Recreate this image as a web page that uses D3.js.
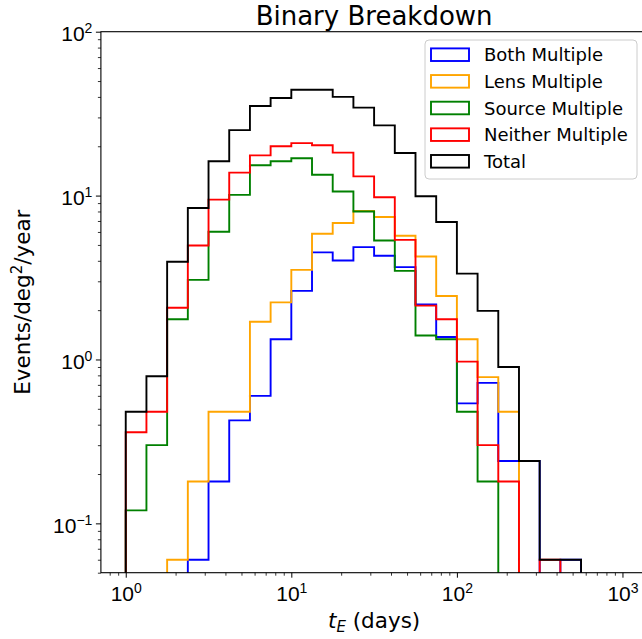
<!DOCTYPE html>
<html>
<head>
<meta charset="utf-8">
<script src="https://cdn.jsdelivr.net/npm/d3@7"></script>
<style>
  html, body { margin: 0; padding: 0; background: #fff; }
  svg { display: block; font-family: "DejaVu Sans", sans-serif; }
</style>
</head>
<body>
<svg id="chart" width="642" height="639"></svg>
<script>
// ---- data ----
const binEdges = [1, 1.3335, 1.7783, 2.3714, 3.1623, 4.2170, 5.6234, 7.4989, 10,
  13.335, 17.783, 23.714, 31.623, 42.170, 56.234, 74.989, 100,
  133.35, 177.83, 237.14, 316.23, 421.70, 562.34, 749.89, 1000];

const bothMultiple    = [0, 0, 0, 0.06, 0.18, 0.425, 0.60, 1.33, 2.62, 4.5, 4.02, 4.85, 4.29, 3.66, 2.17, 1.37, 0.54, 0.72, 0.24, 0.24, 0, 0.06, 0, 0];
const lensMultiple    = [0, 0, 0.06, 0.18, 0.48, 0.48, 1.70, 2.23, 3.52, 5.85, 6.8, 8.05, 7.4, 5.69, 4.25, 2.44, 1.33, 0.78, 0.48, 0, 0, 0, 0, 0];
const sourceMultiple  = [0.12, 0.30, 1.76, 3.06, 6.02, 10.1, 15.3, 16.2, 16.9, 13.4, 10.6, 8.0, 5.32, 3.47, 1.40, 1.33, 0.48, 0.18, 0, 0, 0, 0, 0, 0];
const neitherMultiple = [0.36, 0.48, 2.07, 4.96, 9.45, 13.8, 17.6, 20.0, 20.9, 20.3, 18.3, 13.1, 9.77, 5.37, 2.13, 1.76, 0.97, 0.30, 0.18, 0, 0.06, 0, 0, 0];
const totalEvents     = [0.48, 0.79, 3.95, 8.4, 16.2, 25.1, 35.2, 39.4, 44.2, 44.2, 40.0, 34.4, 26.8, 18.2, 9.9, 6.9, 3.34, 1.98, 0.90, 0.24, 0.06, 0.06, 0, 0];

const seriesNames  = ["Both Multiple", "Lens Multiple", "Source Multiple", "Neither Multiple", "Total"];
const seriesColors = ["blue", "orange", "green", "red", "black"];
const seriesValues = [bothMultiple, lensMultiple, sourceMultiple, neitherMultiple, totalEvents];

const xMajorTicks = [1, 10, 100, 1000];
const yMajorTicks = [0.1, 1, 10, 100];
const xDomain = [0.7079, 1412.5];
const yDomain = [0.05, 100];

const titleText = "Binary Breakdown";

(function () {
// ---- layout ----
const svg = d3.select("#chart");
const pL = 100.9, pR = 647.3, pT = 31.7, pB = 572.7;

const x = d3.scaleLog().domain(xDomain).range([pL, pR]);
const y = d3.scaleLog().domain(yDomain).range([pB, pT]);

function minorTicks(domain) {
  const out = [];
  for (let e = -3; e <= 4; e++) {
    for (let m = 2; m <= 9; m++) {
      const v = m * Math.pow(10, e);
      if (v >= domain[0] && v <= domain[1]) out.push(v);
    }
  }
  return out;
}

svg.append("defs").append("clipPath").attr("id", "plotclip")
  .append("rect").attr("x", pL).attr("y", pT)
  .attr("width", pR - pL).attr("height", pB - pT);

// ---- histograms (step) ----
const below = pB + 30;
const yv = v => v > 0 ? y(v) : below;
const stepLine = d3.line().x(d => d[0]).y(d => d[1]);

const gHist = svg.append("g").attr("clip-path", "url(#plotclip)");
seriesValues.forEach((vals, si) => {
  const pts = [[x(binEdges[0]), below]];
  vals.forEach((v, i) => {
    pts.push([x(binEdges[i]), yv(v)]);
    pts.push([x(binEdges[i + 1]), yv(v)]);
  });
  pts.push([x(binEdges[vals.length]), below]);
  gHist.append("path")
    .attr("d", stepLine(pts))
    .attr("fill", "none")
    .attr("stroke", seriesColors[si])
    .attr("stroke-width", 1.9)
    .attr("stroke-linejoin", "miter");
});

// ---- axes ----
const tickFont = 21;
function supLabel(sel, exp) {
  sel.text(null);
  sel.append("tspan").text("10");
  sel.append("tspan").attr("font-size", 14).attr("dy", -8).text(exp);
}

const xAxis = svg.append("g").attr("transform", `translate(0,${pB})`)
  .call(d3.axisBottom(x).tickValues(xMajorTicks).tickSize(5).tickFormat(""));
xAxis.select(".domain").remove();
xAxis.selectAll(".tick line").attr("stroke", "#000").attr("stroke-width", 1);
xAxis.selectAll(".tick text").remove();
xAxis.selectAll(".tick").append("text")
  .attr("fill", "#000").attr("font-size", tickFont).attr("text-anchor", "middle")
  .attr("y", 28)
  .each(function(d) { supLabel(d3.select(this), String(Math.round(Math.log10(d)))); });

const xMinor = svg.append("g").attr("transform", `translate(0,${pB})`)
  .call(d3.axisBottom(x).tickValues(minorTicks(xDomain)).tickSize(3).tickFormat(""));
xMinor.select(".domain").remove();
xMinor.selectAll(".tick line").attr("stroke", "#000").attr("stroke-width", 0.8);

const yAxis = svg.append("g").attr("transform", `translate(${pL},0)`)
  .call(d3.axisLeft(y).tickValues(yMajorTicks).tickSize(5).tickFormat(""));
yAxis.select(".domain").remove();
yAxis.selectAll(".tick line").attr("stroke", "#000").attr("stroke-width", 1);
yAxis.selectAll(".tick text").remove();
yAxis.selectAll(".tick").append("text")
  .attr("fill", "#000").attr("font-size", tickFont).attr("text-anchor", "end")
  .attr("x", -8.5).attr("y", 9)
  .each(function(d) { supLabel(d3.select(this), d < 1 ? "\u22121" : String(Math.round(Math.log10(d)))); });

const yMinor = svg.append("g").attr("transform", `translate(${pL},0)`)
  .call(d3.axisLeft(y).tickValues(minorTicks(yDomain)).tickSize(3).tickFormat(""));
yMinor.select(".domain").remove();
yMinor.selectAll(".tick line").attr("stroke", "#000").attr("stroke-width", 0.8);

// spines
svg.append("rect").attr("x", pL).attr("y", pT)
  .attr("width", pR - pL).attr("height", pB - pT)
  .attr("fill", "none").attr("stroke", "#000").attr("stroke-width", 1.1);

// ---- labels ----
svg.append("text").attr("x", (pL + pR) / 2).attr("y", 25)
  .attr("text-anchor", "middle").attr("font-size", 26).attr("fill", "#000")
  .text(titleText);

const xl = svg.append("text").attr("x", (pL + pR) / 2).attr("y", 628)
  .attr("text-anchor", "middle").attr("font-size", 21.5).attr("fill", "#000");
xl.append("tspan").attr("font-style", "italic").text("t");
xl.append("tspan").attr("font-style", "italic").attr("font-size", 15).attr("dy", 4).text("E");
xl.append("tspan").attr("dy", -4).text(" (days)");

const yl = svg.append("text")
  .attr("transform", `translate(30,${(pT + pB) / 2}) rotate(-90)`)
  .attr("text-anchor", "middle").attr("font-size", 21.5).attr("fill", "#000");
yl.append("tspan").text("Events/deg");
yl.append("tspan").attr("font-size", 15).attr("dy", -8).text("2");
yl.append("tspan").attr("dy", 8).text("/year");

// ---- legend ----
const lg = svg.append("g");
lg.append("rect").attr("x", 425).attr("y", 40).attr("width", 212).attr("height", 139)
  .attr("rx", 4).attr("fill", "#fff").attr("fill-opacity", 0.8)
  .attr("stroke", "#ccc").attr("stroke-width", 1);
seriesNames.forEach((name, i) => {
  const cy = 54.7 + i * 26.65;
  lg.append("rect").attr("x", 431).attr("y", cy - 6.3).attr("width", 38).attr("height", 12.6)
    .attr("fill", "none").attr("stroke", seriesColors[i]).attr("stroke-width", 1.9);
  lg.append("text").attr("x", 484).attr("y", cy + 6.6)
    .attr("font-size", 18).attr("fill", "#000").text(name);
});
})();
</script>
</body>
</html>
